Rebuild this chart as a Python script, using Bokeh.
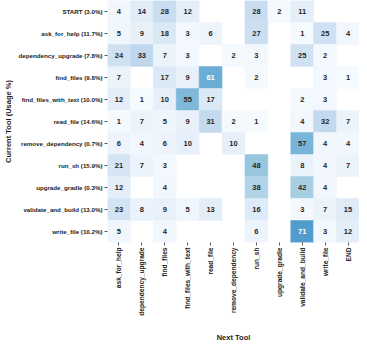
import math
from bokeh.plotting import figure
from bokeh.models import ColumnDataSource
from bokeh.palettes import Blues256
from bokeh.embed import file_html
from bokeh.resources import INLINE
from bokeh.core.properties import value

current_tools = [
    "START (3.0%)", "ask_for_help (11.7%)", "dependency_upgrade (7.8%)",
    "find_files (9.8%)", "find_files_with_text (10.0%)", "read_file (14.6%)",
    "remove_dependency (0.7%)", "run_sh (15.9%)", "upgrade_gradle (0.3%)",
    "validate_and_build (13.0%)", "write_file (10.2%)",
]
next_tools = [
    "ask_for_help", "dependency_upgrade", "find_files", "find_files_with_text",
    "read_file", "remove_dependency", "run_sh", "upgrade_gradle",
    "validate_and_build", "write_file", "END",
]

row_start = [4, 14, 28, 12, 0, 0, 28, 2, 11, 0, 0]
row_ask_for_help = [5, 9, 18, 3, 6, 0, 27, 0, 1, 25, 4]
row_dependency_upgrade = [24, 33, 7, 3, 0, 2, 3, 0, 25, 2, 0]
row_find_files = [7, 0, 17, 9, 61, 0, 2, 0, 0, 3, 1]
row_find_files_with_text = [12, 1, 10, 55, 17, 0, 0, 0, 2, 3, 0]
row_read_file = [1, 7, 5, 9, 31, 2, 1, 0, 4, 32, 7]
row_remove_dependency = [6, 4, 6, 10, 0, 10, 0, 0, 57, 4, 4]
row_run_sh = [21, 7, 3, 0, 0, 0, 48, 0, 8, 4, 7]
row_upgrade_gradle = [12, 0, 4, 0, 0, 0, 38, 0, 42, 4, 0]
row_validate_and_build = [23, 8, 9, 5, 13, 0, 16, 0, 3, 7, 15]
row_write_file = [5, 0, 4, 0, 0, 0, 6, 0, 71, 3, 12]

rows = [row_start, row_ask_for_help, row_dependency_upgrade, row_find_files,
        row_find_files_with_text, row_read_file, row_remove_dependency,
        row_run_sh, row_upgrade_gradle, row_validate_and_build, row_write_file]

VMAX = 122.0
blues = list(reversed(Blues256))  # light -> dark

xs, ys, vals, labels, colors, tcolors = [], [], [], [], [], []
for cur, row in zip(current_tools, rows):
    for nxt, v in zip(next_tools, row):
        if v <= 0:
            continue
        xs.append(nxt)
        ys.append(cur)
        vals.append(v)
        labels.append(str(v))
        idx = min(255, int(round(v / VMAX * 255)))
        colors.append(blues[idx])
        tcolors.append("white" if v > 60 else "#262626")

src = ColumnDataSource(dict(x=xs, y=ys, v=vals, label=labels, color=colors, tcolor=tcolors))

p = figure(
    width=359, height=344,
    x_range=next_tools, y_range=list(reversed(current_tools)),
    output_backend="svg", toolbar_location=None,
    min_border_left=98, min_border_right=0, min_border_top=0, min_border_bottom=84,
)
p.outline_line_color = None
p.xgrid.grid_line_color = None
p.ygrid.grid_line_color = None
p.background_fill_color = "white"

p.rect(x="x", y="y", width=1, height=1, source=src,
       fill_color="color", line_color="color", line_width=0.5)
p.text(x="x", y="y", text="label", source=src,
       text_align="center", text_baseline="middle",
       text_font=value("Liberation Sans"), text_font_size="7.5px",
       text_font_style="bold", text_color="tcolor")

for ax in (p.xaxis[0], p.yaxis[0]):
    ax.axis_line_color = None
    ax.major_tick_in = 0
    ax.major_tick_out = 3
    ax.major_tick_line_color = "#333333"
    ax.major_tick_line_width = 0.8
    ax.minor_tick_line_color = None
    ax.major_label_text_font = "Liberation Sans"
    ax.major_label_text_font_style = "bold"
    ax.major_label_text_color = "#222222"
    ax.major_label_standoff = 2
    ax.axis_label_text_font = "Liberation Sans"
    ax.axis_label_text_font_size = "7.5px"
    ax.axis_label_text_font_style = "bold"
    ax.axis_label_text_color = "#222222"

p.yaxis.major_label_text_font_size = "6.2px"
p.xaxis.major_label_text_font_size = "6.6px"
p.xaxis.major_label_orientation = math.pi / 2
p.xaxis.axis_label = "Next Tool"
p.xaxis.axis_label_standoff = 14
p.yaxis.axis_label = "Current Tool (Usage %)"
p.yaxis.axis_label_standoff = 3

open("out.html", "w").write(file_html(p, INLINE))
